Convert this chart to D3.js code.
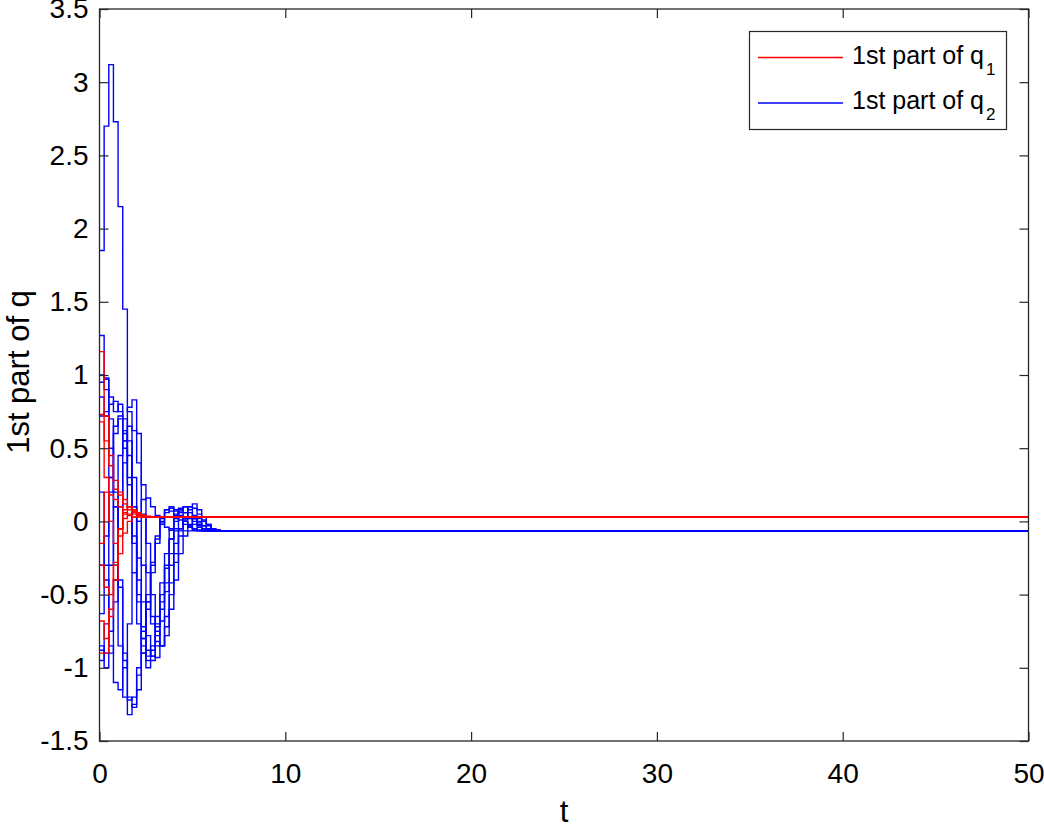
<!DOCTYPE html>
<meta charset="utf-8">
<script src="https://d3js.org/d3.v7.min.js"></script>
<style>
body { margin: 0; background: #fff; }
text { font-family: "Liberation Sans", Arial, sans-serif; fill: #000; }
</style>
<div id="chart"></div>
<script>

// sample instants of the zero-order-hold signals
const sampleTimes = [0, 0.25, 0.5, 0.75, 1, 1.25, 1.5, 1.75, 2, 2.25, 2.5, 2.75, 3, 3.25, 3.5, 3.75,
  4, 4.25, 4.5, 4.75, 5, 5.25, 5.5, 5.75, 6, 6.25, 6.5, 6.75, 7, 7.25, 7.5];
const tEnd = 50;

// 1st part of q1 (red)
const q1Series = [
  [1.16, 0.72, 0.45, 0.28, 0.18, 0.12, 0.08, 0.06, 0.05, 0.04, 0.035, 0.03],
  [0.73, 0.55, 0.38, 0.22, 0.20, 0.15, 0.10, 0.07, 0.05, 0.04, 0.03],
  [0.68, 0.30, 0.00, -0.15, -0.05, 0.05, 0.10, 0.08, 0.06, 0.04, 0.03],
  [-0.30, -0.45, -0.50, -0.28, -0.10, 0.02, 0.05, 0.05, 0.04, 0.03],
  [-0.68, -0.80, -0.60, -0.30, -0.05, 0.08, 0.10, 0.07, 0.05, 0.04, 0.03],
  [-0.90, -0.90, -0.65, -0.40, -0.22, -0.08, 0.00, 0.03, 0.04, 0.03],
  [-0.15, 0.20, 0.18, 0.15, 0.10, 0.06, 0.04, 0.03]
];

// 1st part of q2 (blue)
const q2Series = [
  [1.85, 2.70, 3.12, 2.73, 2.15, 1.45, 0.75, 0.10, -0.40, -0.72, -0.88, -0.92, -0.85, -0.68, -0.48, -0.30,
   -0.15, -0.05, 0.01, 0.03, 0.02, -0.01, -0.03, -0.05, -0.06, -0.065],
  [1.27, 0.90, 0.30, -0.30, -0.85, -1.20, -1.32, -1.25, -1.05, -0.80, -0.55, -0.30, -0.12, 0.00, 0.08, 0.10,
   0.08, 0.04, 0.00, -0.03, -0.05, -0.06, -0.065],
  [1.00, 0.98, 0.70, 0.20, -0.40, -0.90, -1.20, -1.27, -1.15, -0.90, -0.60, -0.35, -0.15, -0.02, 0.06, 0.09,
   0.07, 0.03, 0.00, -0.03, -0.05, -0.06, -0.065],
  [0.85, 0.72, 0.50, 0.10, -0.45, -0.95, -1.22, -1.20, -1.00, -0.75, -0.50, -0.28, -0.10, 0.02, 0.08, 0.07,
   0.04, 0.01, -0.02, -0.04, -0.06, -0.065],
  [-0.85, -0.90, -0.75, -0.40, 0.10, 0.55, 0.78, 0.83, 0.60, 0.25, -0.15, -0.50, -0.75, -0.85, -0.78, -0.60,
   -0.40, -0.22, -0.10, -0.02, 0.02, 0.02, 0.00, -0.03, -0.05, -0.06, -0.065],
  [0.72, 0.75, 0.80, 0.82, 0.75, 0.50, 0.10, -0.35, -0.70, -0.90, -0.95, -0.85, -0.65, -0.42, -0.22, -0.05,
   0.05, 0.08, 0.06, 0.02, -0.02, -0.04, -0.06, -0.065],
  [-0.63, -0.30, 0.20, 0.60, 0.72, 0.60, 0.30, -0.10, -0.50, -0.80, -0.92, -0.88, -0.70, -0.50, -0.30, -0.12,
   0.00, 0.06, 0.06, 0.03, 0.00, -0.03, -0.05, -0.06, -0.065],
  [-0.88, -1.00, -0.90, -0.55, -0.05, 0.40, 0.65, 0.62, 0.40, 0.05, -0.35, -0.65, -0.82, -0.85, -0.72, -0.50,
   -0.28, -0.10, 0.02, 0.10, 0.12, 0.08, 0.03, -0.02, -0.05, -0.06, -0.065],
  [0.20, -0.40, -0.85, -1.10, -1.15, -1.00, -0.70, -0.35, 0.00, 0.15, 0.16, 0.10, 0.04, -0.01, -0.04, -0.06,
   -0.065],
  [-0.30, -0.10, 0.30, 0.65, 0.70, 0.55, 0.25, -0.15, -0.55, -0.85, -1.00, -0.95, -0.78, -0.55, -0.32, -0.12,
   0.02, 0.09, 0.10, 0.06, 0.02, -0.02, -0.05, -0.06, -0.065],
  [0.95, 0.97, 0.85, 0.75, 0.80, 0.70, 0.45, 0.10, -0.25, -0.55, -0.78, -0.92, -0.93, -0.85, -0.65, -0.42,
   -0.22, -0.05, 0.06, 0.10, 0.09, 0.05, 0.01, -0.02, -0.05, -0.06, -0.065],
  [-0.95, -0.70, -0.30, 0.10, 0.45, 0.62, 0.55, 0.30, 0.00, -0.30, -0.55, -0.70, -0.72, -0.60, -0.42, -0.22,
   -0.05, 0.07, 0.10, 0.08, 0.04, 0.00, -0.03, -0.05, -0.06, -0.065]
];

const xTicks = [0, 10, 20, 30, 40, 50];
const yTicks = [-1.5, -1, -0.5, 0, 0.5, 1, 1.5, 2, 2.5, 3, 3.5];
const legendNames = ["1st part of q", "1st part of q"];
const legendSubs = ["1", "2"];
const seriesColors = ["#ff0000", "#0000ff"];

const W = 1044, H = 824;
const pLeft = 99.5, pRight = 1028.5, pTop = 9, pBottom = 741;
const axisColor = "#262626";

const svg = d3.select("#chart").append("svg")
    .attr("width", W)
    .attr("height", H);

const x = d3.scaleLinear().domain([0, 50]).range([pLeft, pRight]);
const y = d3.scaleLinear().domain([-1.5, 3.5]).range([pBottom, pTop]);

// curves
function toPoints(vals) {
  const pts = vals.map((v, i) => ({t: sampleTimes[i], v: v}));
  pts.push({t: tEnd, v: vals[vals.length - 1]});
  return pts;
}

const line = d3.line()
    .x(d => x(d.t))
    .y(d => y(d.v))
    .curve(d3.curveStepAfter);

const plot = svg.append("g");
plot.selectAll(".q2")
  .data(q2Series)
  .join("path")
    .attr("class", "q2")
    .attr("d", d => line(toPoints(d)))
    .attr("fill", "none")
    .attr("stroke", seriesColors[1])
    .attr("stroke-width", 1.4);

plot.selectAll(".q1")
  .data(q1Series)
  .join("path")
    .attr("class", "q1")
    .attr("d", d => line(toPoints(d)))
    .attr("fill", "none")
    .attr("stroke", seriesColors[0])
    .attr("stroke-width", 1.4);

// axes, matlab style: ticks inward on all four sides
const fmt = d => String(d);
const tl = 9;

const gx = svg.append("g")
    .attr("transform", `translate(0,${pBottom})`)
    .call(d3.axisBottom(x).tickValues(xTicks).tickFormat(fmt).tickSizeInner(-tl).tickSizeOuter(0).tickPadding(22));
const gy = svg.append("g")
    .attr("transform", `translate(${pLeft},0)`)
    .call(d3.axisLeft(y).tickValues(yTicks).tickFormat(fmt).tickSizeInner(-tl).tickSizeOuter(0).tickPadding(11));
const gxt = svg.append("g")
    .attr("transform", `translate(0,${pTop})`)
    .call(d3.axisTop(x).tickValues(xTicks).tickFormat("").tickSizeInner(-tl).tickSizeOuter(0));
const gyr = svg.append("g")
    .attr("transform", `translate(${pRight},0)`)
    .call(d3.axisRight(y).tickValues(yTicks).tickFormat("").tickSizeInner(-tl).tickSizeOuter(0));

[gx, gy, gxt, gyr].forEach(g => {
  g.select(".domain").remove();
  g.selectAll("line").attr("stroke", axisColor).attr("stroke-width", 1.2);
  g.selectAll("text")
    .style("font-family", '"Liberation Sans", Arial, sans-serif')
    .style("font-size", "28px")
    .attr("fill", "#000");
});

svg.append("rect")
    .attr("x", pLeft)
    .attr("y", pTop)
    .attr("width", pRight - pLeft)
    .attr("height", pBottom - pTop)
    .attr("fill", "none")
    .attr("stroke", axisColor)
    .attr("stroke-width", 1.3);

// axis labels
svg.append("text")
    .attr("x", (pLeft + pRight) / 2)
    .attr("y", 822)
    .attr("text-anchor", "middle")
    .style("font-size", "31px")
    .text("t");

svg.append("text")
    .attr("transform", `translate(29,${(pTop + pBottom) / 2 - 3}) rotate(-90)`)
    .attr("text-anchor", "middle")
    .style("font-size", "31px")
    .text("1st part of q");

// legend
const legend = svg.append("g");
legend.append("rect")
    .attr("x", 749.5)
    .attr("y", 31.5)
    .attr("width", 257)
    .attr("height", 98)
    .attr("fill", "#fff")
    .attr("stroke", axisColor)
    .attr("stroke-width", 1.2);

const rows = legend.selectAll(".row")
  .data(legendNames)
  .join("g")
    .attr("class", "row")
    .attr("transform", (d, i) => `translate(0,${57.5 + i * 45.5})`);

rows.append("line")
    .attr("x1", 758)
    .attr("x2", 843)
    .attr("stroke", (d, i) => seriesColors[i])
    .attr("stroke-width", 1.4);

const lt = rows.append("text")
    .attr("x", 852)
    .attr("y", 6)
    .style("font-size", "25px");
lt.append("tspan").text(d => d);
lt.append("tspan")
    .attr("dy", 11)
    .attr("dx", 2)
    .style("font-size", "17px")
    .text((d, i) => legendSubs[i]);

</script>
